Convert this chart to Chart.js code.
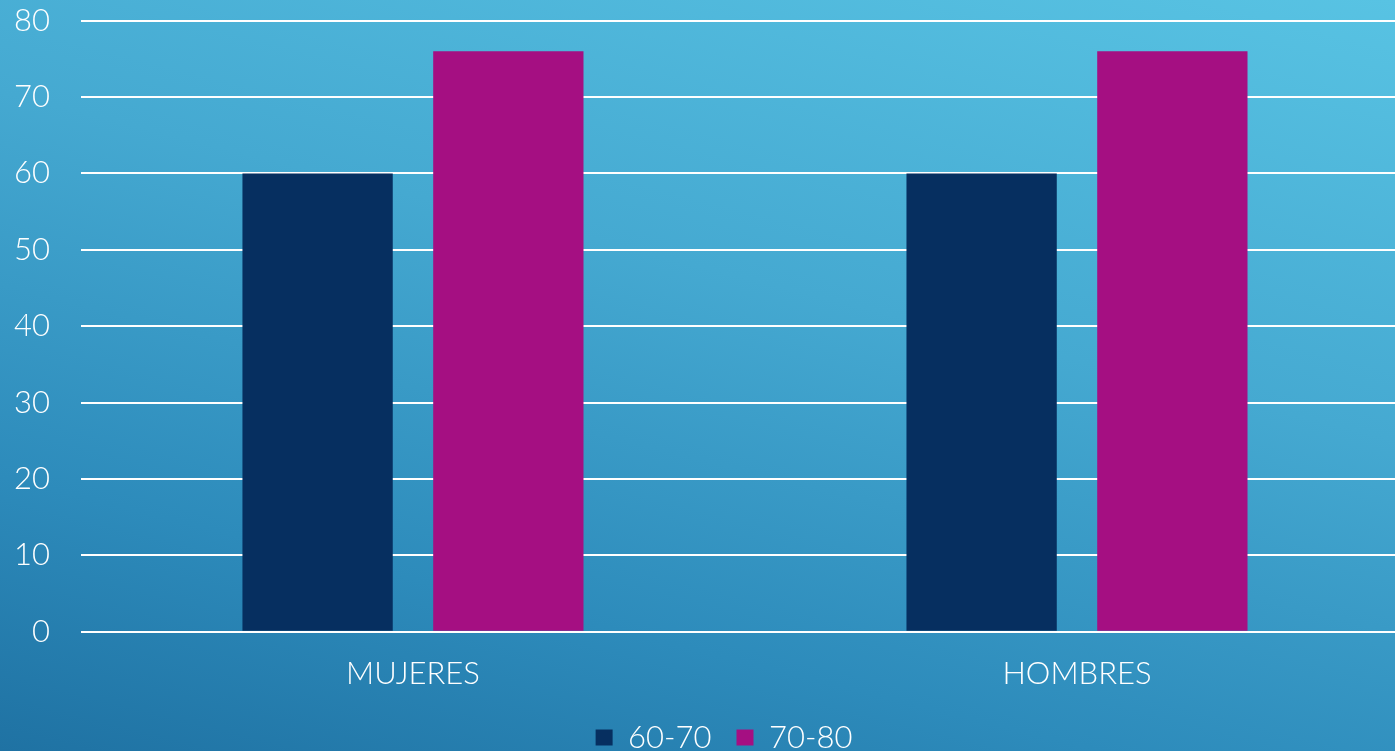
<!DOCTYPE html>
<html>
<head>
<meta charset="utf-8">
<script src="https://cdn.jsdelivr.net/npm/chart.js@4"></script>
<style>
  html, body { margin: 0; padding: 0; width: 1395px; height: 751px; overflow: hidden; }
  body { background: linear-gradient(194deg, #58c3e3 0%, #45a9d1 40%, #2d8bbb 75%, #1f72a3 100%); }
  #wrap { position: absolute; left: -17px; top: -29px; width: 1426px; height: 792px; }
</style>
</head>
<body>
<div id="wrap"><canvas id="c"></canvas></div>
<script>
const categories = ['MUJERES', 'HOMBRES'];
const series6070 = [60, 60];
const series7080 = [76, 76];
const seriesNames = ['60-70', '70-80'];
const yTicks = [0, 10, 20, 30, 40, 50, 60, 70, 80];

const FONT = "Lato, 'Open Sans', sans-serif";

const legendShift = {
  id: 'legendShift',
  afterLayout(chart) {
    chart.legend.left += 28;
    chart.legend.right += 28;
  }
};

new Chart(document.getElementById('c'), {
  type: 'bar',
  data: {
    labels: categories,
    datasets: [
      { label: seriesNames[0], data: series6070, backgroundColor: '#062f60', categoryPercentage: 0.5745, barPercentage: 0.788 },
      { label: seriesNames[1], data: series7080, backgroundColor: '#a50f82', categoryPercentage: 0.5745, barPercentage: 0.788 }
    ]
  },
  plugins: [legendShift],
  options: {
    responsive: true,
    maintainAspectRatio: false,
    animation: false,
    layout: { padding: 0 },
    plugins: {
      tooltip: { enabled: false },
      legend: {
        position: 'bottom',
        labels: {
          color: '#ffffff',
          font: { family: FONT, size: 31, weight: 300 },
          boxWidth: 17,
          boxHeight: 16,
          padding: 25,
          useBorderRadius: false
        }
      }
    },
    scales: {
      x: {
        grid: { display: false, drawTicks: false },
        border: { display: false },
        ticks: { color: '#ffffff', font: { family: FONT, size: 31, weight: 300 }, padding: 24 },
        afterFit: (scale) => { scale.height -= 20; }
      },
      y: {
        min: 0, max: 80,
        afterBuildTicks: (axis) => { axis.ticks = yTicks.map(v => ({ value: v })); },
        grid: { color: '#ffffff', lineWidth: 2, drawTicks: false },
        border: { display: false },
        ticks: { color: '#ffffff', font: { family: FONT, size: 31, weight: 300 }, padding: 31 }
      }
    }
  }
});
</script>
</body>
</html>
